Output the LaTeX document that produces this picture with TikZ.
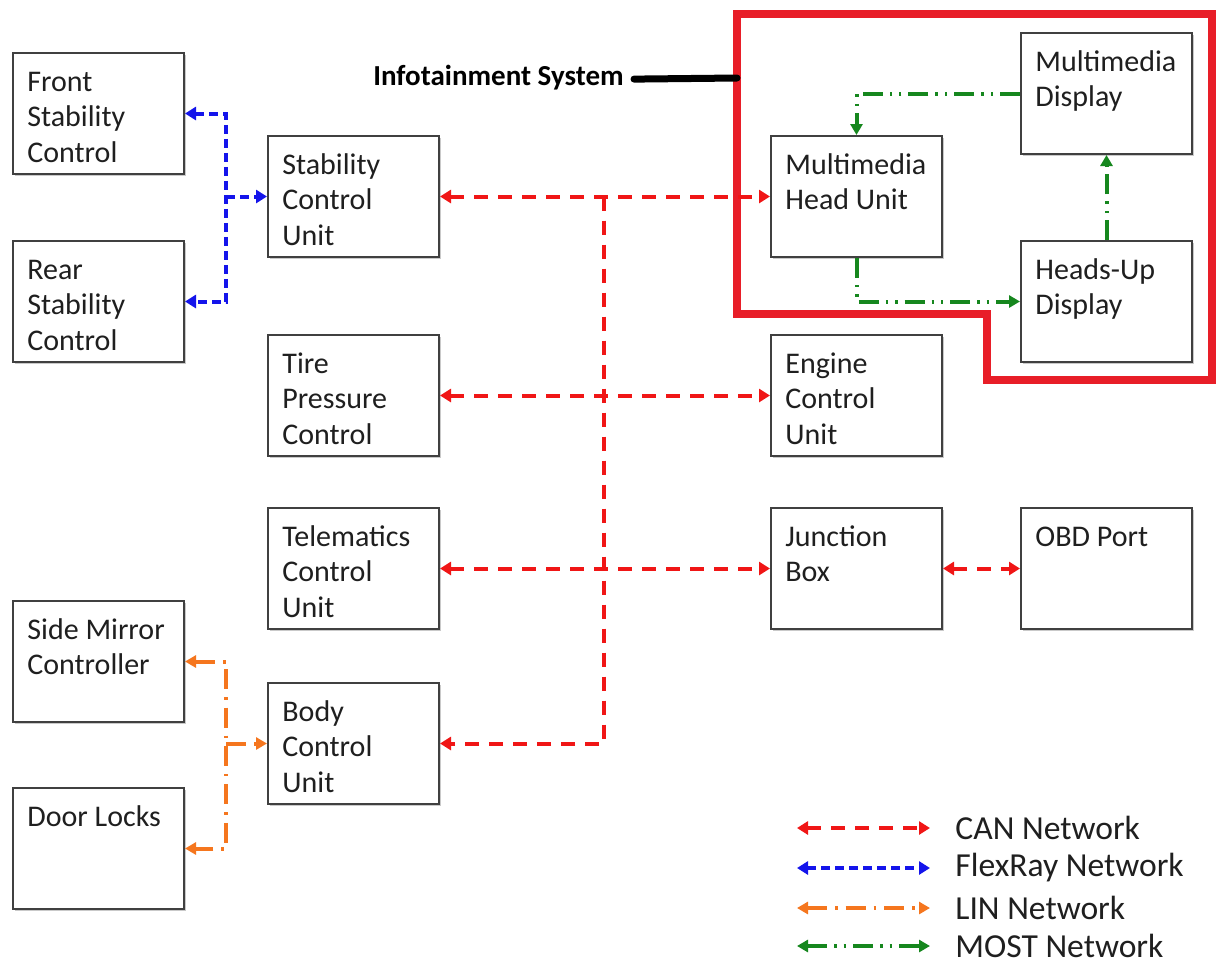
\documentclass[tikz,border=0pt]{standalone}
\usepackage{fontspec}
\setmainfont{Carlito}
\usetikzlibrary{arrows.meta,shadows}
\definecolor{canred}{RGB}{240,22,22}
\definecolor{flexblue}{RGB}{20,20,235}
\definecolor{linorange}{RGB}{245,118,30}
\definecolor{mostgreen}{RGB}{22,135,30}
\definecolor{outlinered}{RGB}{232,30,40}
\tikzset{
  ecu/.style={draw=black!75, line width=1pt, anchor=north west, minimum width=85.5pt,
    minimum height=60.5pt, inner sep=0pt, fill=white,
    drop shadow={shadow xshift=0.8pt, shadow yshift=-0.8pt, opacity=0.35, fill=black!60}},
  ecutext/.style={anchor=base west, inner sep=0pt, text=black!88,
    font=\fontsize{15}{17.75}\selectfont},
  can/.style={draw=canred, line width=2pt, dash pattern=on 7pt off 5pt,
    >={Triangle[length=5.5pt,width=6.5pt]}},
  flex/.style={draw=flexblue, line width=2pt, dash pattern=on 4.5pt off 2.5pt,
    >={Triangle[length=5.5pt,width=6.5pt]}},
  lin/.style={draw=linorange, line width=2pt, dash pattern=on 10pt off 4pt on 1.2pt off 4pt,
    >={Triangle[length=5.5pt,width=6pt]}},
  most/.style={draw=mostgreen, line width=2pt,
    dash pattern=on 10pt off 3.5pt on 1.2pt off 3.5pt on 1.2pt off 3.5pt,
    >={Triangle[length=5.5pt,width=6pt]}},
  legtext/.style={anchor=west, inner sep=0pt, text=black!88, font=\fontsize{16.8}{20}\selectfont},
}
\newcommand\ecubox[4]{%
  \node[ecu] (#1) at (#2,#3) {};
  \node[ecutext] (#1-t) at ([xshift=7.5pt,yshift=-19.5pt]#1.north west)
    {\parbox[t]{80pt}{\raggedright #4}};
}
\begin{document}
\begin{tikzpicture}[x=0.5pt,y=-0.5pt]
\useasboundingbox[fill=white] (0,0) rectangle (1217,966);

% infotainment outline
\draw[outlinered, line width=4pt, line join=miter]
  (737,14) -- (1212,14) -- (1212,380) -- (987,380) -- (987,314) -- (737,314) -- cycle;
\coordinate (outl) at (737,78);

% boxes
\ecubox{front}{12}{52}{Front\\Stability\\Control}
\ecubox{rear}{12}{240}{Rear\\Stability\\Control}
\ecubox{scu}{267}{135}{Stability\\Control\\Unit}
\ecubox{tire}{267}{334}{Tire\\Pressure\\Control}
\ecubox{tcu}{267}{507}{Telematics\\Control\\Unit}
\ecubox{smc}{12}{600}{Side Mirror\\Controller}
\ecubox{bcu}{267}{682}{Body\\Control\\Unit}
\ecubox{door}{12}{787}{Door Locks}
\ecubox{mhu}{770}{135}{Multimedia\\Head Unit}
\ecubox{mmd}{1020}{32}{Multimedia\\Display}
\ecubox{hud}{1020}{240}{Heads-Up\\Display}
\ecubox{ecm}{770}{334}{Engine\\Control\\Unit}
\ecubox{jb}{770}{507}{Junction\\Box}
\ecubox{obd}{1020}{507}{OBD Port}

% label
\node[anchor=base east, inner sep=1pt, font=\bfseries\fontsize{14.5}{17}\selectfont] (info) at (626,85) {Infotainment System};
\draw[line width=3.5pt, line cap=round] ([xshift=4pt,yshift=-1pt]info.east) -- (outl);

% FlexRay
\coordinate (fbx) at (226,0);
\draw[flex,<->] (front.east) -| (fbx |- scu.west) |- (rear.east);
\draw[flex,->] (fbx |- scu.west) -- (scu.west);

% LIN
\coordinate (lbx) at (226,0);
\draw[lin,<->] (smc.east) -| (lbx |- bcu.west) |- (door.east);
\draw[lin,->] (lbx |- bcu.west) -- (bcu.west);

% CAN
\coordinate (cbx) at (604,0);
\draw[can,<->] (scu.east) -- (mhu.west);
\draw[can,->] (cbx |- scu.east) |- (bcu.east);
\draw[can,<->] (tire.east) -- (ecm.west);
\draw[can,<->] (tcu.east) -- (jb.west);
\draw[can,<->] (jb.east) -- (obd.west);

% MOST
\draw[most,->] (mmd.west) -| (mhu.north);
\draw[most,->] (mhu.south) |- (hud.west);
\draw[most,->] (hud.north) -- (mmd.south);

% legend
\coordinate (l1a) at (797,828); \coordinate (l1b) at (930,828);
\coordinate (l2a) at (797,868); \coordinate (l2b) at (930,868);
\coordinate (l3a) at (797,908); \coordinate (l3b) at (930,908);
\coordinate (l4a) at (797,946); \coordinate (l4b) at (930,946);
\draw[can,<->] (l1a) -- (l1b);
\draw[flex,<->] (l2a) -- (l2b);
\draw[lin,<->] (l3a) -- (l3b);
\draw[most,<->] (l4a) -- (l4b);
\node[legtext] (lt1) at (955,828) {CAN Network};
\node[legtext] (lt2) at (955,868) {FlexRay Network};
\node[legtext] (lt3) at (955,908) {LIN Network};
\node[legtext] (lt4) at (955,946) {MOST Network};
\end{tikzpicture}
\end{document}
